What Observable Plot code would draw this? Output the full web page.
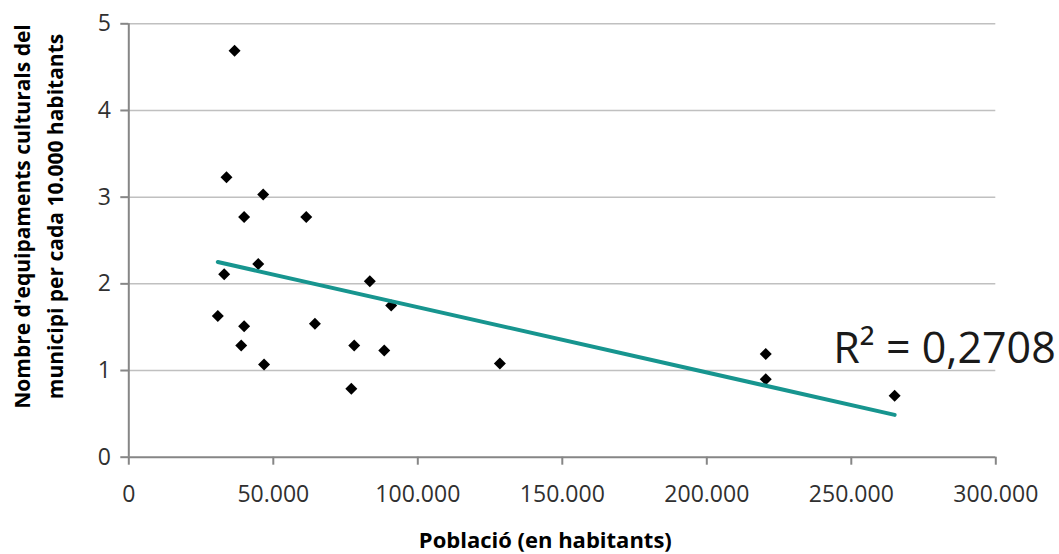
<!DOCTYPE html>
<html>
<head>
<meta charset="utf-8">
<script src="https://cdn.jsdelivr.net/npm/d3@7"></script>
<script src="https://cdn.jsdelivr.net/npm/@observablehq/plot@0.6"></script>
<style>
  html, body { margin: 0; padding: 0; background: #fff; }
  #chart svg { display: block; }
</style>
</head>
<body>
<div id="chart"></div>
<script>
// Population of each municipality (inhabitants)
const poblacio = [36600, 33800, 46500, 39900, 61400, 44800, 33000, 83400, 30800, 39900, 64400,
                  90800, 38900, 46800, 78000, 88400, 77000, 128400, 220400, 220400, 265000];
// Cultural facilities per 10,000 inhabitants
const equipaments = [4.69, 3.23, 3.03, 2.77, 2.77, 2.23, 2.11, 2.03, 1.63, 1.51, 1.54,
                     1.75, 1.29, 1.07, 1.29, 1.23, 0.79, 1.08, 1.19, 0.90, 0.71];

const xTicks = [0, 50000, 100000, 150000, 200000, 250000, 300000];
const yTicks = [0, 1, 2, 3, 4, 5];
const gridTicks = [1, 2, 3, 4, 5];

const xTitle = "Població (en habitants)";
const yTitleLine1 = "Nombre d'equipaments culturals del";
const yTitleLine2 = "municipi per cada 10.000 habitants";
const r2Label = "R² = 0,2708";

const data = poblacio.map((p, i) => ({poblacio: p, equip: equipaments[i]}));

const locale = d3.formatLocale({decimal: ",", thousands: ".", grouping: [3], currency: ["", ""]});
const fmtX = locale.format(",");

const FONT = "'Open Sans', sans-serif";
const axisGray = "#868686";
const textGray = "#303030";

const chart = Plot.plot({
  width: 1059,
  height: 554,
  marginLeft: 128.3,
  marginRight: 63.7,
  marginTop: 23.3,
  marginBottom: 97.3,
  style: {fontFamily: FONT, background: "#fff", overflow: "visible"},
  x: {domain: [0, 300000]},
  y: {domain: [0, 5]},
  marks: [
    Plot.gridY(gridTicks, {stroke: "#c0c0c0", strokeOpacity: 1, strokeWidth: 1.5}),
    Plot.ruleY([0], {stroke: axisGray, strokeWidth: 2}),
    Plot.ruleX([0], {stroke: axisGray, strokeWidth: 2}),
    Plot.axisX({ticks: xTicks, tickSize: 8, tickPadding: 20, stroke: axisGray, strokeWidth: 2,
                fill: textGray, fontSize: 23, tickFormat: fmtX, label: null}),
    Plot.axisY({ticks: yTicks, tickSize: 8, tickPadding: 10, stroke: axisGray, strokeWidth: 2,
                fill: textGray, fontSize: 23, tickFormat: d => String(d), label: null}),
    Plot.dot(data, {x: "poblacio", y: "equip", symbol: "diamond2", r: 5.4, fill: "#000"}),
    Plot.linearRegressionY(data, {x: "poblacio", y: "equip", ci: 0, stroke: "#17958f", strokeWidth: 4}),
    Plot.text([xTitle], {frameAnchor: "bottom", textAnchor: "middle", lineAnchor: "bottom", dx: -17, dy: 91, fontSize: 22, fontWeight: "bold", fill: "#000"}),
    Plot.text([yTitleLine1], {frameAnchor: "left", textAnchor: "middle", rotate: -90, dx: -106, dy: -24, fontSize: 21, fontWeight: "bold", fill: "#000"}),
    Plot.text([yTitleLine2], {frameAnchor: "left", textAnchor: "middle", rotate: -90, dx: -73, dy: -24, fontSize: 21, fontWeight: "bold", fill: "#000"}),
    Plot.text([r2Label], {frameAnchor: "top-right", textAnchor: "end", lineAnchor: "bottom", dx: 60, dy: 338.7, fontSize: 43, fill: "#1a1a1a"})
  ]
});

document.getElementById("chart").appendChild(chart);
</script>
</body>
</html>
